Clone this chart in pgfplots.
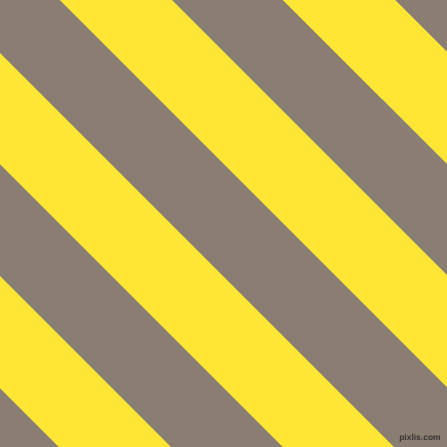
\documentclass[border=0pt]{standalone}
\usepackage{fontspec}
\setmainfont{Liberation Sans}
\usepackage{pgfplots}
\pgfplotsset{compat=1.18}

\definecolor{stripegray}{RGB}{138,125,114}
\definecolor{stripeyellow}{RGB}{255,230,52}

% diagonal bands y = x + c (image coordinates, y downwards)
% each band given by its two offsets c1, c2
\begin{document}
\begin{tikzpicture}
  \begin{axis}[
    width=447bp, height=447bp,
    scale only axis,
    xmin=0, xmax=447,
    ymin=0, ymax=447,
    y dir=reverse,
    hide axis,
    clip=true,
  ]
    % background
    \addplot [fill=stripegray, draw=none] coordinates {
      (0,0) (447,0) (447,447) (0,447)
    } -- cycle;
    % yellow bands, c from -395 to -283
    \addplot [fill=stripeyellow, draw=none] coordinates {
      (-100,-495) (900,505) (900,617) (-100,-383)
    } -- cycle;
    % c from -172 to -60
    \addplot [fill=stripeyellow, draw=none] coordinates {
      (-100,-272) (900,728) (900,840) (-100,-160)
    } -- cycle;
    % c from 53 to 164
    \addplot [fill=stripeyellow, draw=none] coordinates {
      (-100,-47) (900,953) (900,1064) (-100,64)
    } -- cycle;
    % c from 276 to 388
    \addplot [fill=stripeyellow, draw=none] coordinates {
      (-100,176) (900,1176) (900,1288) (-100,288)
    } -- cycle;
    \node [font=\fontsize{8.5}{9}\selectfont\bfseries, text=black!60!stripegray,
           inner sep=0pt] at (axis cs:420,438) {pixlis.com};
  \end{axis}
  \pgfresetboundingbox
  \useasboundingbox (current axis.south west) rectangle (current axis.north east);
\end{tikzpicture}
\end{document}
